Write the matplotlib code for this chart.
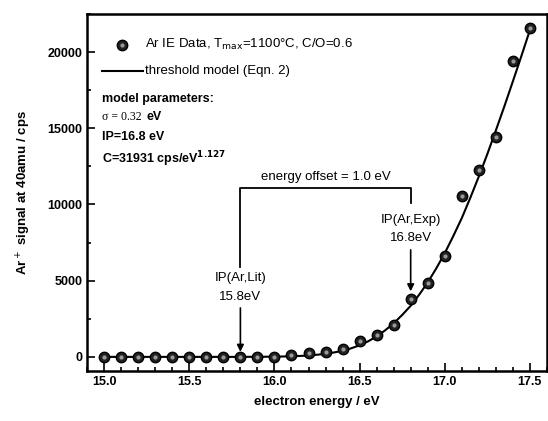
import matplotlib
matplotlib.use("Agg")
import matplotlib.pyplot as plt
from matplotlib.ticker import MultipleLocator

plt.rcParams['font.family'] = ['Liberation Sans', 'DejaVu Sans']

# Data: measured Ar+ signal
energy = [15.0, 15.1, 15.2, 15.3, 15.4, 15.5, 15.6, 15.7, 15.8, 15.9,
          16.0, 16.1, 16.2, 16.3, 16.4, 16.5, 16.6, 16.7, 16.8, 16.9,
          17.0, 17.1, 17.2, 17.3, 17.4, 17.5]
signal = [0, 0, 0, 0, 0, 0, 0, 0, 0, 0,
          20, 130, 260, 330, 530, 1050, 1450, 2100, 3800, 4870,
          6650, 10530, 12240, 14400, 19400, 21580]

# threshold model curve
model_e = [15.0, 15.2, 15.4, 15.6, 15.8, 15.9, 16.0, 16.05, 16.1, 16.15,
           16.2, 16.25, 16.3, 16.35, 16.4, 16.45, 16.5, 16.55, 16.6, 16.65,
           16.7, 16.75, 16.8, 16.85, 16.9, 16.95, 17.0, 17.05, 17.1, 17.15,
           17.2, 17.25, 17.3, 17.35, 17.4, 17.45, 17.5]
model_s = [0, 0, 0, 0, 0, 5, 15, 25, 40, 60,
           90, 140, 200, 290, 400, 560, 760, 1020, 1340, 1740,
           2200, 2750, 3350, 4080, 4880, 5800, 6800, 7920, 9100, 10430,
           11830, 13300, 14850, 16430, 18070, 19730, 21430]

fig = plt.figure(figsize=(5.48, 4.21), dpi=100)
ax = fig.add_axes([0.159, 0.119, 0.839, 0.848])

ax.plot(model_e, model_s, color='black', linewidth=1.5, zorder=2)
ax.plot(energy, signal, linestyle='none', marker='o', markersize=7.5,
        markerfacecolor='#222222', markeredgecolor='black', zorder=3)
ax.plot(energy, signal, linestyle='none', marker='o', markersize=3,
        markerfacecolor='#999999', markeredgecolor='none', zorder=4)

ax.set_xlim(14.9, 17.6)
ax.set_ylim(-920, 22500)
ax.xaxis.set_major_locator(MultipleLocator(0.5))
ax.xaxis.set_minor_locator(MultipleLocator(0.1))
ax.yaxis.set_major_locator(MultipleLocator(5000))
ax.yaxis.set_minor_locator(MultipleLocator(2500))
ax.tick_params(which='both', direction='in', top=False, right=False, width=1.2)
ax.tick_params(which='major', length=6, labelsize=9)
ax.tick_params(which='minor', length=3)
for lab in ax.get_xticklabels() + ax.get_yticklabels():
    lab.set_fontweight('bold')
ax.xaxis.set_major_formatter(plt.FormatStrFormatter('%.1f'))
for sp in ax.spines.values():
    sp.set_linewidth(1.8)

ax.set_xlabel('electron energy / eV', fontweight='bold', fontsize=9.5, labelpad=6)
ax.set_ylabel('Ar$^+$ signal at 40amu / cps', fontweight='bold', fontsize=9.5, labelpad=10)

# legend (drawn by hand to match layout)
ax.plot([15.106], [20490], marker='o', markersize=7.5, markerfacecolor='#222222',
        markeredgecolor='black', linestyle='none')
ax.plot([15.106], [20490], marker='o', markersize=3, markerfacecolor='#999999',
        markeredgecolor='none', linestyle='none')
ax.text(15.24, 20490, 'Ar IE Data, T$_{\\mathrm{max}}$=1100°C, C/O=0.6',
        fontsize=9.5, va='center', ha='left')
ax.plot([14.99, 15.23], [18780, 18780], color='black', linewidth=1.5)
ax.text(15.24, 18780, 'threshold model (Eqn. 2)', fontsize=9.5, va='center', ha='left')

ax.text(14.99, 16940, 'model parameters:', fontsize=9, fontweight='bold', va='center')
sig = ax.text(14.99, 15760, 'σ = 0.32', fontsize=8.5, family='Liberation Serif',
              va='center')
ax.annotate('eV', xy=(1, 0.5), xycoords=sig, xytext=(3, 0),
            textcoords='offset points', fontsize=9, fontweight='bold', va='center')
ax.text(14.99, 14450, 'IP=16.8 eV', fontsize=9, fontweight='bold', va='center')
ax.text(14.99, 13000, 'C=31931 cps/eV$^{\\mathbf{1.127}}$', fontsize=9,
        fontweight='bold', va='center')

# energy offset bracket
ax.plot([15.8, 15.8, 16.8, 16.8], [5900, 11090, 11090, 10100],
        color='black', linewidth=1.3)
ax.text(16.3, 11800, 'energy offset = 1.0 eV', fontsize=9.5, ha='center', va='center')

ax.text(15.8, 5180, 'IP(Ar,Lit)', fontsize=9.5, ha='center', va='center')
ax.text(15.8, 3940, '15.8eV', fontsize=9.5, ha='center', va='center')
ax.annotate('', xy=(15.8, 330), xytext=(15.8, 3210),
            arrowprops=dict(arrowstyle='-|>', color='black', lw=1.2,
                            mutation_scale=10, shrinkA=0, shrinkB=0))

ax.text(16.8, 8990, 'IP(Ar,Exp)', fontsize=9.5, ha='center', va='center')
ax.text(16.8, 7800, '16.8eV', fontsize=9.5, ha='center', va='center')
ax.annotate('', xy=(16.8, 4300), xytext=(16.8, 7020),
            arrowprops=dict(arrowstyle='-|>', color='black', lw=1.2,
                            mutation_scale=10, shrinkA=0, shrinkB=0))

fig.savefig('out.png', dpi=100)
